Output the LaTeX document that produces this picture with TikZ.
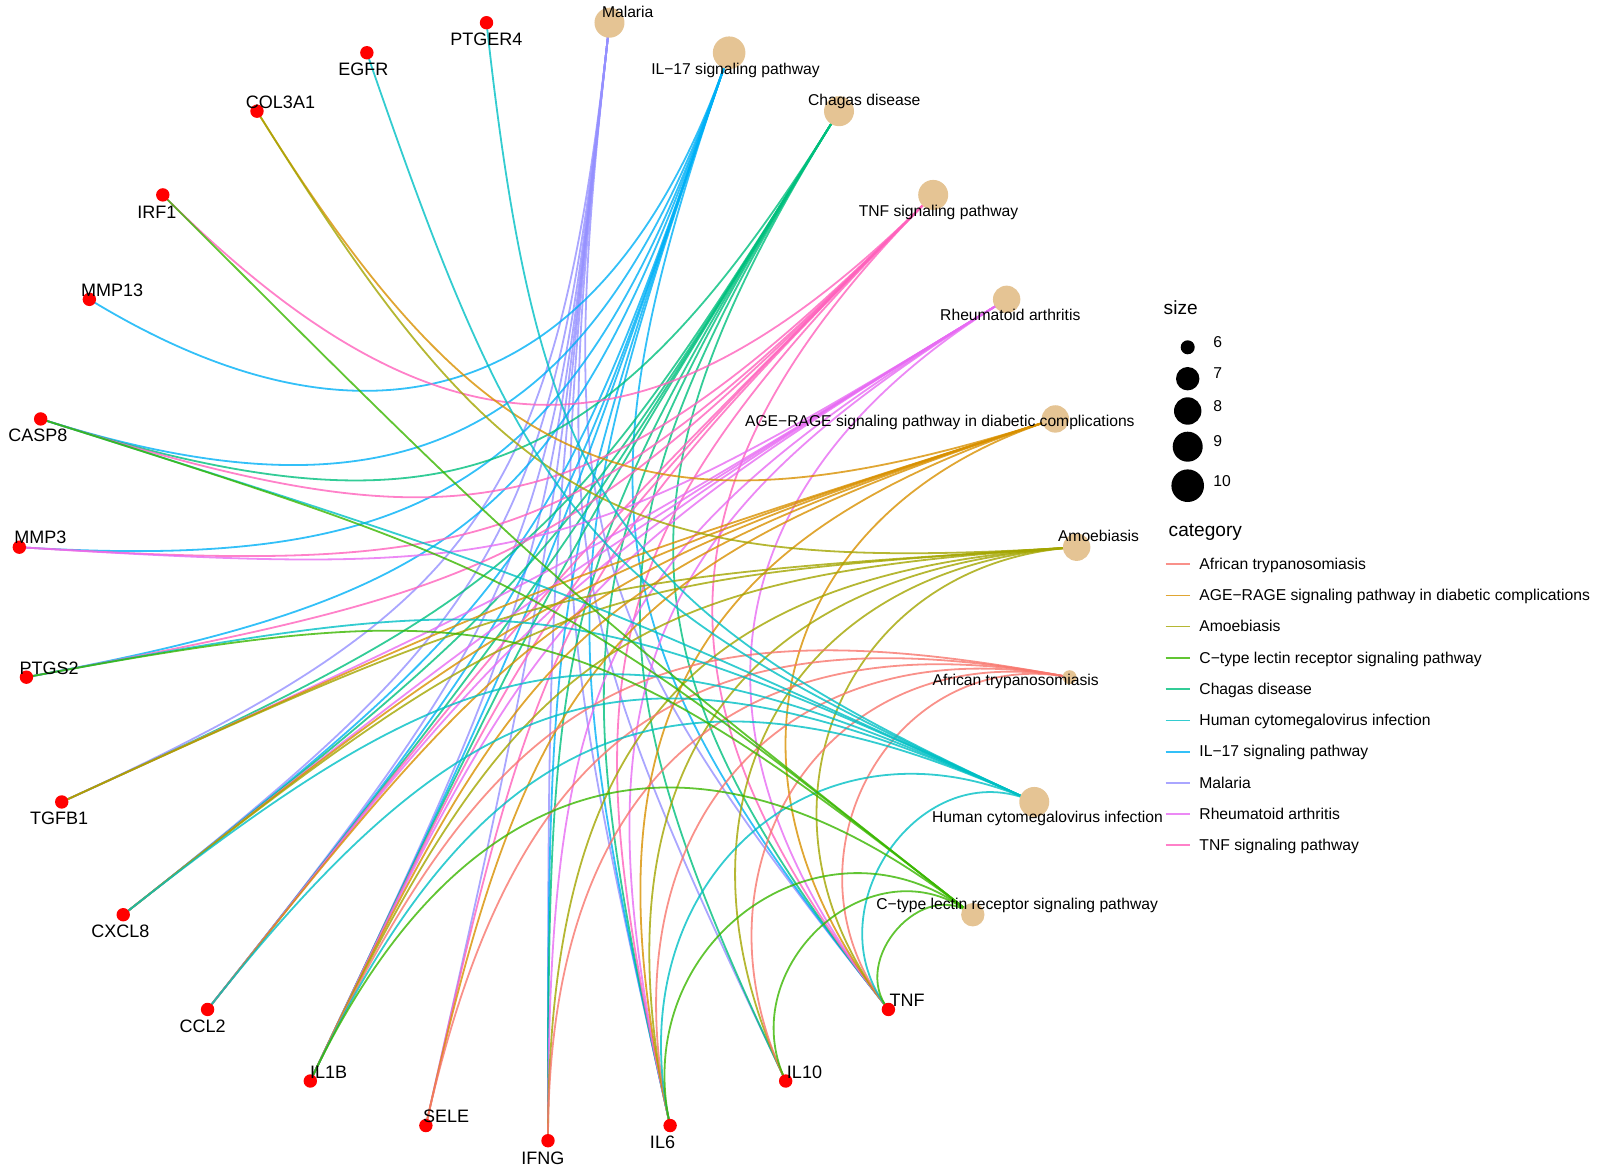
\documentclass[tikz,border=0pt]{standalone}
\usepackage{fontspec}
\setmainfont{Liberation Sans}
\usetikzlibrary{calc}
\definecolor{cAT}{HTML}{F8766D}
\definecolor{cAGE}{HTML}{D89000}
\definecolor{cAMO}{HTML}{A3A500}
\definecolor{cCTL}{HTML}{39B600}
\definecolor{cCHA}{HTML}{00BF7D}
\definecolor{cHCM}{HTML}{00BFC4}
\definecolor{cIL}{HTML}{00B0F6}
\definecolor{cMAL}{HTML}{9590FF}
\definecolor{cRA}{HTML}{E76BF3}
\definecolor{cTNFP}{HTML}{FF62BC}
\definecolor{pathfill}{HTML}{E5C494}
\newcommand{\cnetedge}[3]{%
  \pgfmathsetmacro\ka{\csname kidx#1\endcsname}%
  \pgfmathsetmacro\kb{\csname kidx#2\endcsname}%
  \pgfmathsetmacro\ns{min(abs(\ka-\kb),27-abs(\ka-\kb))}%
  \pgfmathsetmacro\hh{sin(\ns*13.333333/2)}%
  \draw[cnetline,#3] (#1) .. controls ($(#1)!\hh!(ctr)$) and ($(#2)!\hh!(ctr)$) .. (#2);%
}
\tikzset{
  cnetline/.style={line width=0.9pt, draw opacity=0.8},
  genedot/.style={fill=red},
  pathdot/.style={fill=pathfill},
  genelab/.style={font=\fontsize{9}{10}\selectfont, inner sep=0pt, anchor=base},
  pathlab/.style={font=\fontsize{7.83}{9}\selectfont, inner sep=0pt, anchor=base},
  leglab/.style={font=\fontsize{7.85}{9}\selectfont, inner sep=0pt, anchor=base west},
  legtitle/.style={font=\fontsize{9.55}{11}\selectfont, inner sep=0pt, anchor=base west},
}
\begin{document}
\begin{tikzpicture}[x=0.5pt,y=-0.5pt]
\useasboundingbox (0,0) rectangle (1600,1176);
\coordinate (ctr) at (548,579.8);
\foreach \nm/\k in {IFNG/0,IL6/1,IL10/2,TNF/3,CTL/4,HCMV/5,AT/6,AMO/7,AGE/8,RA/9,TNFP/10,CHA/11,IL17/12,MAL/13,PTGER4/14,EGFR/15,COL3A1/16,IRF1/17,MMP13/18,CASP8/19,MMP3/20,PTGS2/21,TGFB1/22,CXCL8/23,CCL2/24,IL1B/25,SELE/26}{
  \expandafter\xdef\csname kidx\nm\endcsname{\k}
  \coordinate (\nm) at ({548+529.6*cos(-90+\k*13.333333)},{579.8-560.9*sin(-90+\k*13.333333)});
}
% edges
\foreach \g in {CCL2,CXCL8,IFNG,IL10,IL1B,IL6,SELE,TGFB1,TNF}{\cnetedge{\g}{MAL}{cMAL}}
\foreach \g in {CASP8,CCL2,CXCL8,IFNG,IL1B,IL6,MMP13,MMP3,PTGS2,TNF}{\cnetedge{\g}{IL17}{cIL}}
\foreach \g in {CASP8,CCL2,CXCL8,IFNG,IL10,IL1B,IL6,TGFB1,TNF}{\cnetedge{\g}{CHA}{cCHA}}
\foreach \g in {CASP8,CCL2,IL1B,IL6,IRF1,MMP3,PTGS2,SELE,TNF}{\cnetedge{\g}{TNFP}{cTNFP}}
\foreach \g in {CCL2,CXCL8,IFNG,IL1B,IL6,MMP3,TGFB1,TNF}{\cnetedge{\g}{RA}{cRA}}
\foreach \g in {CCL2,COL3A1,CXCL8,IL1B,IL6,SELE,TGFB1,TNF}{\cnetedge{\g}{AGE}{cAGE}}
\foreach \g in {COL3A1,CXCL8,IFNG,IL10,IL1B,IL6,TGFB1,TNF}{\cnetedge{\g}{AMO}{cAMO}}
\foreach \g in {IFNG,IL10,IL1B,IL6,SELE,TNF}{\cnetedge{\g}{AT}{cAT}}
\foreach \g in {CASP8,CCL2,CXCL8,EGFR,IL1B,IL6,PTGER4,PTGS2,TNF}{\cnetedge{\g}{HCMV}{cHCM}}
\foreach \g in {CASP8,IL10,IL1B,IL6,IRF1,PTGS2,TNF}{\cnetedge{\g}{CTL}{cCTL}}
% pathway nodes
\foreach \p/\r in {MAL/15,IL17/16.3,CHA/15,TNFP/15,RA/13.7,AGE/13.7,AMO/13.7,AT/7,HCMV/15,CTL/11.7}{
  \fill[pathdot] (\p) circle (\r);
}
% gene nodes
\foreach \g in {IFNG,IL6,IL10,TNF,PTGER4,EGFR,COL3A1,IRF1,MMP13,CASP8,MMP3,PTGS2,TGFB1,CXCL8,CCL2,IL1B,SELE}{
  \fill[genedot] (\g) circle (6.7);
}
% gene labels
\node[genelab] (lPTGER4) at (486.3,46) {PTGER4};
\node[genelab] (lEGFR) at (363.3,76) {EGFR};
\node[genelab] (lCOL3A1) at (280.5,108.3) {COL3A1};
\node[genelab] (lIRF1) at (156.8,218.7) {IRF1};
\node[genelab] (lMMP13) at (112.2,296.7) {MMP13};
\node[genelab] (lCASP8) at (38,441.7) {CASP8};
\node[genelab] (lMMP3) at (40.3,543.7) {MMP3};
\node[genelab] (lPTGS2) at (49.2,674.3) {PTGS2};
\node[genelab] (lTGFB1) at (59.2,824.3) {TGFB1};
\node[genelab] (lCXCL8) at (120.5,937.7) {CXCL8};
\node[genelab] (lCCL2) at (202.7,1032.7) {CCL2};
\node[genelab] (lIL1B) at (328.7,1078.3) {IL1B};
\node[genelab] (lSELE) at (446.2,1122.7) {SELE};
\node[genelab] (lIFNG) at (542.8,1164.3) {IFNG};
\node[genelab] (lIL6) at (662.5,1148.7) {IL6};
\node[genelab] (lIL10) at (804.5,1078.3) {IL10};
\node[genelab] (lTNF) at (907,1006) {TNF};
% pathway labels
\node[pathlab] (lMAL) at (627.7,17.9) {Malaria};
\node[pathlab] (lIL17) at (735.5,74.5) {IL−17 signaling pathway};
\node[pathlab] (lCHA) at (864.2,105.9) {Chagas disease};
\node[pathlab] (lTNFP) at (938.5,216.2) {TNF signaling pathway};
\node[pathlab] (lRA) at (1010.3,320.9) {Rheumatoid arthritis};
\node[pathlab,anchor=base east] (lAGE) at (1135,426.9) {AGE−RAGE signaling pathway in diabetic complications};
\node[pathlab] (lAMO) at (1098.5,541.9) {Amoebiasis};
\node[pathlab] (lAT) at (1015.7,685.2) {African trypanosomiasis};
\node[pathlab] (lHCMV) at (1047.5,822.9) {Human cytomegalovirus infection};
\node[pathlab,anchor=base east] (lCTL) at (1158.3,909.5) {C−type lectin receptor signaling pathway};
% size legend
\node[legtitle] (tsize) at (1163.3,314.3) {size};
\foreach \s/\yy/\r in {6/347.3/7,7/378.7/11.7,8/411/13.7,9/446.7/15,10/485.7/16.3}{
  \coordinate (sz\s) at (1187.7,\yy);
  \fill[black] (sz\s) circle (\r);
}
\node[leglab] (n6) at (1213,348) {6};
\node[leglab] (n7) at (1213,378.2) {7};
\node[leglab] (n8) at (1213,411.2) {8};
\node[leglab] (n9) at (1213,446.9) {9};
\node[leglab] (n10) at (1213,486.2) {10};
% category legend
\node[legtitle] (tcat) at (1168.3,536.3) {category};
\foreach \c/\yy/\t in {cAT/564/African trypanosomiasis,cAGE/595.4/AGE−RAGE signaling pathway in diabetic complications,cAMO/626.5/Amoebiasis,cCTL/658/C−type lectin receptor signaling pathway,cCHA/689.2/Chagas disease,cHCM/720.4/Human cytomegalovirus infection,cIL/751.6/IL−17 signaling pathway,cMAL/782.8/Malaria,cRA/814/Rheumatoid arthritis,cTNFP/845/TNF signaling pathway}{
  \coordinate (la\c) at (1165.7,\yy);
  \coordinate (lb\c) at (1190,\yy);
  \draw[cnetline,\c] (la\c) -- (lb\c);
  \node[leglab] (lt\c) at (1199,\yy+5.2) {\t};
}
\end{tikzpicture}
\end{document}
